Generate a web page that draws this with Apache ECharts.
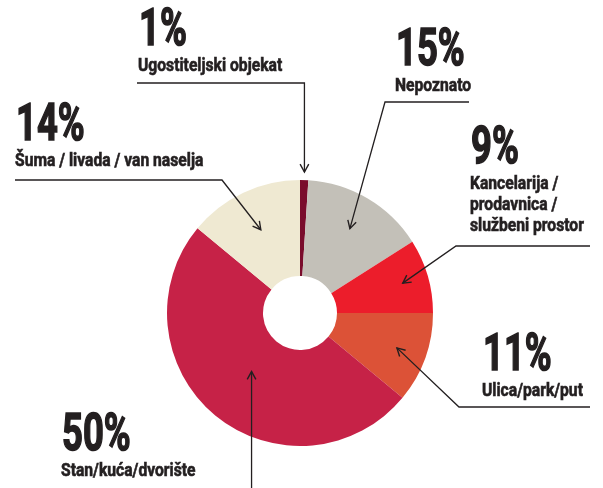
<!DOCTYPE html>
<html>
<head>
<meta charset="utf-8">
<script src="https://cdn.jsdelivr.net/npm/echarts@6/dist/echarts.min.js"></script>
<style>
  html, body { margin: 0; padding: 0; background: #fff; }
  #main { width: 603px; height: 488px; }
</style>
</head>
<body>
<div id="main"></div>
<script>
// data
var categories = ['Ugostiteljski objekat', 'Nepoznato', 'Kancelarija /\nprodavnica /\nslužbeni prostor',
    'Ulica/park/put', 'Stan/kuća/dvorište', 'Šuma / livada / van naselja'];
var shares = [1, 15, 9, 11, 50, 14];

var sliceColors = ['#7a0c2c', '#c3c0b8', '#ec1d2b', '#dc5237', '#c62247', '#efe9d2'];

// label placement: left x, baseline of the percentage, arrow tip radius,
// underline y, underline far end x, elbow x (null = straight down/up from tip)
var labelPos = [
    {x: 138, base: 50,  tipR: 141, lineY: 83,  lineEnd: 137, elbowX: null},
    {x: 395, base: 70,  tipR: 98,  lineY: 102, lineEnd: 469, elbowX: 385},
    {x: 470, base: 168, tipR: 107, lineY: 246, lineEnd: 590, elbowX: 456},
    {x: 482, base: 375, tipR: 103, lineY: 407, lineEnd: 590, elbowX: 459},
    {x: 61,  base: 455, tipR: 76,  lineY: 490, lineEnd: null, elbowX: null},
    {x: 15,  base: 145, tipR: 92,  lineY: 180, lineEnd: 15,  elbowX: 222}
];

var cx = 300, cy = 313;
var ink = '#231f20';
var pctSize = 52, nameSize = 18;

var chart = echarts.init(document.getElementById('main'));

function buildGraphics() {
    var total = shares.reduce(function (a, b) { return a + b; }, 0);
    var acc = 0;
    var els = [];
    shares.forEach(function (v, i) {
        var mid = (acc + v / 2) / total * 2 * Math.PI;
        acc += v;
        var p = labelPos[i];
        var tip = [cx + p.tipR * Math.sin(mid), cy - p.tipR * Math.cos(mid)];
        var elbow = [p.elbowX == null ? tip[0] : p.elbowX, p.lineY];
        var pts = [];
        if (p.lineEnd != null) pts.push([p.lineEnd, p.lineY]);
        pts.push(elbow, tip);
        els.push({
            type: 'polyline',
            z: 100,
            shape: {points: pts},
            style: {stroke: ink, lineWidth: 1.3, fill: null},
            silent: true
        });
        // arrow head
        var ang = Math.atan2(elbow[1] - tip[1], elbow[0] - tip[0]);
        var len = 9, spread = 0.5;
        els.push({
            type: 'polyline',
            z: 100,
            shape: {points: [
                [tip[0] + len * Math.cos(ang + spread), tip[1] + len * Math.sin(ang + spread)],
                tip,
                [tip[0] + len * Math.cos(ang - spread), tip[1] + len * Math.sin(ang - spread)]
            ]},
            style: {stroke: ink, lineWidth: 1.4, fill: null},
            silent: true
        });
        els.push({
            type: 'text',
            z: 100,
            x: p.x + 1, y: p.base - 0.34 * pctSize,
            scaleX: 0.7,
            style: {
                text: v + '%', fill: ink,
                stroke: ink, lineWidth: 1.6,
                font: 'bold ' + pctSize + 'px Roboto',
                verticalAlign: 'middle', align: 'left'
            },
            silent: true
        });
        els.push({
            type: 'text',
            z: 100,
            x: p.x, y: p.base + 22 - 16,
            scaleX: 0.87,
            style: {
                text: categories[i], fill: ink,
                stroke: ink, lineWidth: 0.6,
                font: 'bold ' + nameSize + 'px Roboto',
                lineHeight: 21,
                verticalAlign: 'top', align: 'left'
            },
            silent: true
        });
    });
    return els;
}

var option = {
    backgroundColor: '#ffffff',
    animation: false,
    series: [{
        type: 'pie',
        center: [cx, cy],
        radius: [37, 133],
        startAngle: 90,
        clockwise: true,
        silent: true,
        label: {show: false},
        labelLine: {show: false},
        data: shares.map(function (v, i) {
            return {value: v, name: categories[i], itemStyle: {color: sliceColors[i]}};
        })
    }],
    graphic: buildGraphics()
};

chart.setOption(option);
</script>
</body>
</html>
